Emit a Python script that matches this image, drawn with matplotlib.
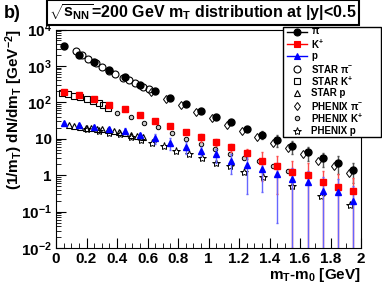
import matplotlib
matplotlib.use("Agg")
import matplotlib.pyplot as plt
from matplotlib.lines import Line2D
from matplotlib.patches import Rectangle
import numpy as np

plt.rcParams['font.family'] = ['Liberation Sans', 'DejaVu Sans']
plt.rcParams['font.weight'] = 'bold'
plt.rcParams['mathtext.fontset'] = 'custom'
plt.rcParams['mathtext.rm'] = 'Liberation Sans:bold'
plt.rcParams['mathtext.bf'] = 'Liberation Sans:bold'
plt.rcParams['mathtext.it'] = 'Liberation Sans:bold'
plt.rcParams['mathtext.default'] = 'bf'

# model points (this work)
x_main = [0.05, 0.15, 0.25, 0.35, 0.45, 0.55, 0.65, 0.75, 0.85, 0.95,
          1.05, 1.15, 1.25, 1.35, 1.45, 1.55, 1.65, 1.75, 1.85, 1.95]
pi_y = [3420, 2020, 1270, 780, 490, 300, 205, 135, 89, 59,
        40, 28, 19, 13, 9.2, 6.3, 4.2, 2.9, 2.2, 1.4]
pi_err = [100, 60, 35, 20, 12, 8, 5, 4, 3, 2.5,
          2.5, 2.5, 2, 3, 3.3, 2.5, 1.8, 1.2, 1.1, 0.8]
k_y = [197, 160, 122, 85, 65, 45, 31.6, 22.4, 15.6, 10.9,
       7.9, 5.8, 4.0, 2.5, 1.8, 1.26, 1.0, 0.64, 0.48, 0.36]
k_err = [6, 5, 4, 3, 2.5, 2, 1.8, 2, 2, 2.5,
         1.7, 1.5, 1.2, 1.8, 1.5, 1.25, 1.2, 0.7, 0.6, 0.5]
p_y = [27.6, 23.8, 21.4, 18.5, 16.6, 12.6, 10.2, 7.5, 6.0, 4.7,
       3.7, 2.5, 1.9, 1.5, 1.1, 0.78, 0.63, 0.37, 0.34, 0.196]
p_err = [1.5, 2.5, 2, 2.2, 2.8, 2.2, 2.9, 2.7, 2.1, 1.4,
         1.5, 1.4, 1.6, 1.15, 1.05, 0.8, 0.7, 0.5, 0.45, 0.3]

# STAR
star_pi_x = [0.13, 0.17, 0.21, 0.26, 0.30, 0.35, 0.39, 0.44, 0.48, 0.52, 0.57, 0.61]
star_pi_y = [2630, 2020, 1540, 1220, 945, 730, 595, 480, 400, 330, 270, 230]
star_k_x = [0.04, 0.08, 0.12, 0.16, 0.20, 0.24, 0.28, 0.31, 0.34]
star_k_y = [180, 166, 150, 136, 120, 110, 96, 85, 70]
star_p_x = [0.085, 0.12, 0.16, 0.195, 0.23, 0.27, 0.30, 0.34, 0.38, 0.41, 0.45, 0.49, 0.53, 0.57]
star_p_y = [23.5, 22.5, 21.4, 20.3, 19.6, 18.8, 18.0, 17.3, 16.5, 15.5, 14.2, 12.8, 11.9, 10.9]

# PHENIX
phx_pi_x = [0.62, 0.72, 0.82, 0.92, 1.02, 1.12, 1.22, 1.32, 1.42, 1.52, 1.62, 1.72, 1.82, 1.92]
phx_pi_y = [194, 122, 82, 53, 37, 24.6, 16.3, 10.9, 7.5, 5.4, 3.8, 2.5, 1.8, 1.16]
phx_k_x = [0.40, 0.49, 0.58, 0.67, 0.76, 0.85, 0.95, 1.04, 1.14, 1.23, 1.33, 1.42, 1.52]
phx_k_y = [52, 39, 27, 20.6, 14.6, 9.6, 7.1, 5.1, 3.8, 2.9, 2.4, 1.74, 1.33]
phx_p_x = [0.20, 0.28, 0.35, 0.42, 0.49, 0.56, 0.63, 0.71, 0.79, 0.875, 0.96, 1.05,
           1.14, 1.23, 1.36, 1.55, 1.74, 1.925]
phx_p_y = [18.1, 16.3, 14.4, 13.1, 10.9, 9.2, 7.5, 6.3, 4.7, 3.8, 2.9, 2.2,
           1.77, 1.23, 0.88, 0.50, 0.27, 0.156]

y_ticks = [1e-2, 1e-1, 1, 10, 1e2, 1e3, 1e4]
y_ticklabels = [r'$10^{-2}$', r'$10^{-1}$', '1', '10', r'$10^{2}$', r'$10^{3}$', r'$10^{4}$']
x_ticks = [0, 0.2, 0.4, 0.6, 0.8, 1, 1.2, 1.4, 1.6, 1.8, 2]
x_ticklabels = ['0', '0.2', '0.4', '0.6', '0.8', '1', '1.2', '1.4', '1.6', '1.8', '2']

legend_labels = [r'$\pi^{-}$', r'K$^{+}$', 'p', r'STAR $\pi^{-}$', r'STAR K$^{+}$', 'STAR p',
                 r'PHENIX $\pi^{-}$', r'PHENIX K$^{+}$', 'PHENIX p']

# marker styles: (marker, facecolor, edgecolor, size, edgewidth, draw line)
styles = [
    ('o', 'k', 'k', 5, 0.8, True),
    ('s', 'red', 'red', 5, 0.8, True),
    ('^', 'blue', 'blue', 5, 0.8, True),
    ('o', 'none', 'k', 5, 0.8, False),
    ('s', 'none', 'k', 5, 0.8, False),
    ('^', 'none', 'k', 5, 0.8, False),
    ('d', 'none', 'k', 4.5, 0.7, False),
    ('o', '#cccccc', 'k', 3.2, 0.7, False),
    ('*', 'none', 'k', 6, 0.7, False),
]


def yerr_pair(vals, errs):
    vals = np.array(vals)
    errs = np.array(errs)
    low = np.minimum(errs, vals - 1e-4)
    return [low, errs]


W, H = 382, 286
fig = plt.figure(figsize=(3.82, 2.86), dpi=100)
ax = fig.add_axes([56 / W, 1 - 248 / H, 305 / W, 218.5 / H])


def plot_set(x, y, st):
    m, fc, ec, s, mw, _ = st
    ax.plot(x, y, m, mfc=fc, mec=ec, ms=s, mew=mw, ls='none')


# experimental data
plot_set(star_pi_x, star_pi_y, styles[3])
plot_set(star_k_x, star_k_y, styles[4])
plot_set(star_p_x, star_p_y, styles[5])
plot_set(phx_pi_x, phx_pi_y, styles[6])
plot_set(phx_k_x, phx_k_y, styles[7])
plot_set(phx_p_x, phx_p_y, styles[8])

# this work with errors
ax.errorbar(x_main, pi_y, yerr=yerr_pair(pi_y, pi_err), fmt='o', color='k',
            ecolor='#555555', elinewidth=1, capsize=1, ms=5)
ax.errorbar(x_main, k_y, yerr=yerr_pair(k_y, k_err), fmt='s', color='red',
            ecolor=(1, 0.3, 0.3), elinewidth=1, capsize=1, ms=5)
ax.errorbar(x_main, p_y, yerr=yerr_pair(p_y, p_err), fmt='^', color='blue',
            ecolor=(0.4, 0.4, 1), elinewidth=1, capsize=1, ms=5)

ax.set_yscale('log')
ax.set_xlim(0, 2)
ax.set_ylim(1e-2, 1e4)
ax.set_yticks(y_ticks)
ax.set_yticklabels(y_ticklabels)
ax.set_xticks(x_ticks)
ax.set_xticklabels(x_ticklabels)
ax.set_xticks(np.arange(0, 2.001, 0.05), minor=True)
ax.tick_params(which='both', direction='in', top=False, right=False, labelsize=11, pad=3)
ax.tick_params(which='major', length=7, width=0.8)
ax.tick_params(which='minor', length=3.5, width=0.6)
for lab in ax.get_xticklabels() + ax.get_yticklabels():
    lab.set_fontweight('bold')

fig.text(14 / W, 1 - 29 / H, r'(1/m$_{T}$) dN/dm$_{T}$ [GeV$^{-2}$]', rotation=90,
         ha='center', va='top', fontsize=11, fontweight='bold')
fig.text(361 / W, 1 - 275 / H, r'm$_{T}$-m$_{0}$ [GeV]', ha='right', va='center',
         fontsize=11, fontweight='bold')
fig.text(4 / W, 1 - 13 / H, 'b)', ha='left', va='center', fontsize=13, fontweight='bold')
fig.text(203 / W, 1 - 12.5 / H, r'$\sqrt{s_{NN}}$=200 GeV m$_{T}$ distribution at |y|<0.5',
         ha='center', va='center', fontsize=11.5, fontweight='bold',
         bbox=dict(boxstyle='square,pad=0.15', fc='white', ec='black', lw=1.5))

# legend box drawn by hand (ROOT style)
fig.add_artist(Rectangle((283 / W, 1 - 137 / H), 98 / W, 110 / H, transform=fig.transFigure,
                         fc='white', ec='black', lw=1.0, zorder=5))
for i, (lab, st) in enumerate(zip(legend_labels, styles)):
    yy = 1 - (31.5 + 12.4 * i) / H
    m, fc, ec, s, mw, line = st
    if line:
        fig.add_artist(Line2D([287 / W, 307 / W], [yy, yy], color=ec, lw=1,
                              transform=fig.transFigure, zorder=6))
    fig.add_artist(Line2D([297 / W], [yy], marker=m, mfc=fc, mec=ec, ms=s, mew=mw,
                          ls='none', transform=fig.transFigure, zorder=7))
    fig.text(311 / W, yy, lab, ha='left', va='center', fontsize=7, fontweight='bold', zorder=7)

fig.savefig('out.png', dpi=100)
